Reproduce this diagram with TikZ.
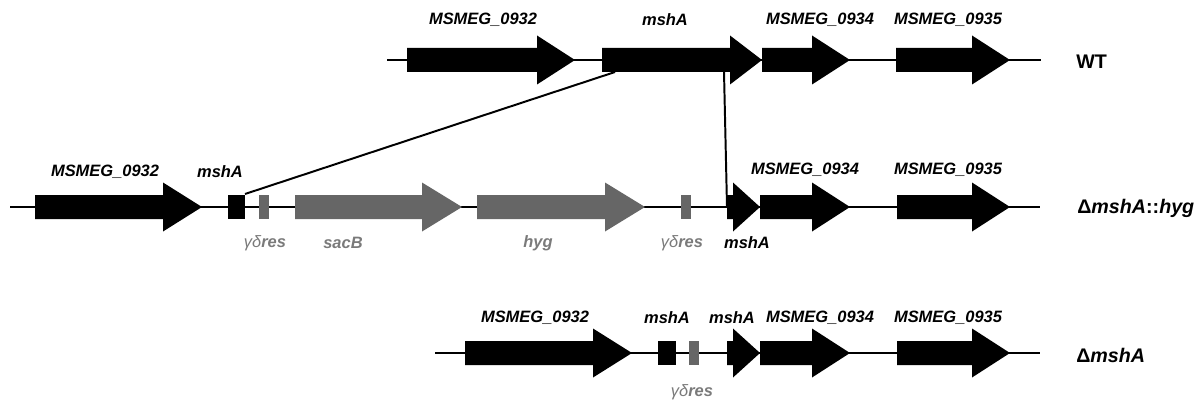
\documentclass[tikz,border=0pt]{standalone}
\usepackage{fontspec}
\setmainfont{Liberation Sans}
\definecolor{gr}{HTML}{666666}
\definecolor{grtxt}{HTML}{7A7A7A}
\newcommand\genearrow[5]{\fill[#5] (#1,#4-12) -- (#2,#4-12) -- (#2,#4-24.5) -- (#3,#4) -- (#2,#4+24.5) -- (#2,#4+12) -- (#1,#4+12) -- cycle;}
\newcommand\genebox[4]{\fill[#4] (#1,#3-12) rectangle (#2,#3+12);}
\newcommand\gdres{{\mdseries\itshape γδ}res}
\tikzset{
  lbl/.style={font=\fontsize{11.7}{13}\selectfont\bfseries\itshape, inner sep=0pt},
  glbl/.style={font=\fontsize{11.7}{13}\selectfont\bfseries\itshape, text=grtxt, inner sep=0pt},
  strain/.style={font=\fontsize{14}{16}\selectfont\bfseries, inner sep=0pt, anchor=west},
  dna/.style={line width=1.3pt},
  conn/.style={line width=1.4pt}
}
\begin{document}
\begin{tikzpicture}[x=0.025cm,y=-0.025cm]
\useasboundingbox (0,0) rectangle (1200,400);
% ---------- WT ----------
\draw[dna] (387,60) -- (1041,60);
\genearrow{407}{537}{575}{60}{black}
\genearrow{602}{730}{762}{60}{black}
\genearrow{762}{812}{850}{60}{black}
\genearrow{896}{972}{1010}{60}{black}
\node[lbl] (w1) at (483,20) {MSMEG\_0932};
\node[lbl] (w2) at (665,20) {mshA};
\node[lbl] (w3) at (820,20) {MSMEG\_0934};
\node[lbl] (w4) at (948,20) {MSMEG\_0935};
\node[strain] (wt) at (1076,62) {WT};
\coordinate (wtA) at (615,72);
\coordinate (wtB) at (724,72);
% ---------- delta mshA::hyg ----------
\draw[dna] (10,207) -- (1040,207);
\genearrow{35}{163}{202}{207}{black}
\genebox{228}{245}{207}{black}
\genebox{259}{269}{207}{gr}
\genearrow{295}{422}{462}{207}{gr}
\genearrow{477}{605}{645}{207}{gr}
\genebox{681}{691}{207}{gr}
\genearrow{727}{733}{760}{207}{black}
\genearrow{760}{812}{850}{207}{black}
\genearrow{897}{972}{1010}{207}{black}
\node[lbl] (k1) at (105,172) {MSMEG\_0932};
\node[lbl] (k2) at (220,172) {mshA};
\node[lbl] (k3) at (805,170) {MSMEG\_0934};
\node[lbl] (k4) at (948,170) {MSMEG\_0935};
\node[glbl] (k5) at (265,243) {\gdres};
\node[glbl] (k6) at (343,243) {sacB};
\node[glbl] (k7) at (538,243) {hyg};
\node[glbl] (k8) at (682,243) {\gdres};
\node[lbl] (k9) at (747,243) {mshA};
\node[strain] (ko) at (1077,208) {Δ\textit{mshA}::\textit{hyg}};
\coordinate (koA) at (245,194);
\coordinate (koB) at (727,207);
\draw[conn] (koA) -- (wtA);
\draw[conn] (wtB) -- (koB);
% ---------- delta mshA ----------
\draw[dna] (435,353) -- (1040,353);
\genearrow{465}{593}{632}{353}{black}
\genebox{658}{676}{353}{black}
\genebox{689}{699}{353}{gr}
\genearrow{727}{733}{760}{353}{black}
\genearrow{760}{812}{850}{353}{black}
\genearrow{897}{972}{1010}{353}{black}
\node[lbl] (d1) at (535,318) {MSMEG\_0932};
\node[lbl] (d2) at (667,318) {mshA};
\node[lbl] (d3) at (732,318) {mshA};
\node[lbl] (d4) at (820,318) {MSMEG\_0934};
\node[lbl] (d5) at (948,318) {MSMEG\_0935};
\node[glbl] (d6) at (692,392) {\gdres};
\node[strain] (dm) at (1076,355) {Δ\textit{mshA}};
\end{tikzpicture}
\end{document}
